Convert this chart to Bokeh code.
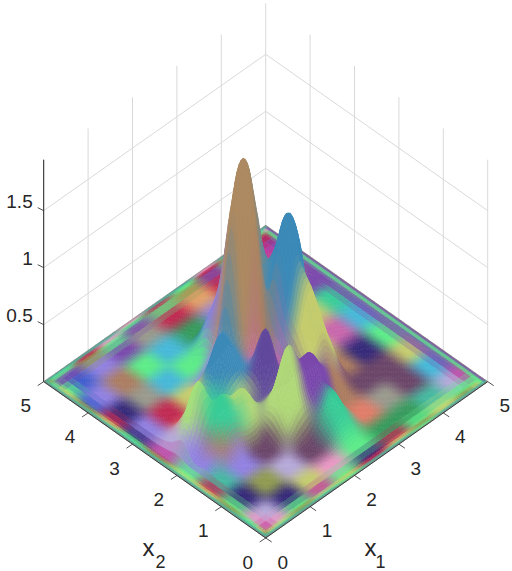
import numpy as np
from bokeh.plotting import figure
from bokeh.models import Range1d
from bokeh.core.properties import value
from bokeh.embed import file_html
from bokeh.resources import INLINE

# ---- data ----
x1_ticks = [0, 1, 2, 3, 4, 5]
x2_ticks = [0, 1, 2, 3, 4, 5]
z_ticks = [0.5, 1, 1.5]
z_tick_labels = ["0.5", "1", "1.5"]
z_top = 1.947

# heights: rows are x1 = 0, .25 ... 5; columns x2 = 0, .25 ... 5
height_x = [i * 0.25 for i in range(21)]
height_rows = {
    1:  {9: .02, 10: .01},
    2:  {7: .03, 8: .03, 9: .25, 10: .10, 11: .02},
    3:  {7: .09, 8: .22, 9: .55, 10: .25, 11: .05},
    4:  {6: .02, 7: .20, 8: .42, 9: .22, 10: .10, 11: .02},
    5:  {7: .16, 8: .35, 9: .16, 10: .02, 11: .02},
    6:  {5: .01, 6: .04, 7: .16, 8: .35, 9: .15, 10: .13, 11: .25, 12: .12},
    7:  {4: .01, 5: .15, 6: .32, 7: .22, 8: .16, 9: .11, 10: .25, 11: .55, 12: .25, 13: .02},
    8:  {4: .03, 5: .32, 6: .72, 7: .32, 8: .17, 9: .28, 10: .27, 11: .38, 12: .32, 13: .13, 14: .04},
    9:  {3: .06, 4: .15, 5: .31, 6: .54, 7: .27, 8: .25, 9: .60, 10: .30, 11: .50, 12: 1.38, 13: .45, 14: .38, 15: .12},
    10: {2: .01, 3: .14, 4: .32, 5: .37, 6: .53, 7: .29, 8: .20, 9: .25, 10: .30, 11: 1.38, 12: 1.82, 13: 1.38, 14: .55, 15: .25, 16: .02},
    11: {3: .06, 4: .14, 5: .16, 6: .35, 7: .30, 8: .50, 9: .68, 10: 1.02, 11: .45, 12: 1.38, 13: .60, 14: .30, 15: .12},
    12: {4: .01, 6: .22, 7: .50, 8: .82, 9: 1.02, 10: 1.34, 11: 1.02, 12: .60, 13: .22, 14: .04},
    13: {6: .06, 7: .30, 8: .45, 9: .40, 10: 1.02, 11: .45, 12: .09},
    14: {7: .05, 8: .10, 9: .15, 10: .15, 11: .09, 12: .01},
}

palette = {
    "g": "#85807a", "t": "#45b8a0", "G": "#5cec88", "l": "#a6e07c", "o": "#8f9a50",
    "d": "#359a5c", "b": "#3f5ccc", "c": "#45b8d8", "p": "#7a48ac", "m": "#c0389e",
    "r": "#c02850", "n": "#ab7c60", "s": "#e07c68", "k": "#e898c4", "v": "#9080e0",
    "y": "#c4cc6e", "e": "#98988c", "u": "#342878", "a": "#ad8a62", "B": "#3c8ab8",
    "i": "#5f489c", "L": "#b0d878", "w": "#b4a8d8", "h": "#6a4468", "f": "#e0a068",
    "x": "#38cc98", "q": "#c866ac",
}

# floor colours at these node positions, rows x1, columns x2
colour_x = [0, .03, .07, .16, .38, .9, 1.4, 1.9, 2.5, 3.1, 3.6, 4.1, 4.62, 4.84, 4.93, 4.97, 5]
colour_rows = [
    "g g g g g g g g g g g g g g g g g",
    "g t t t t t t t t t t t t t t t g",
    "g t o y G o y l o G y o y G o t g",
    "g t y m k G r G m u r b G p G t g",
    "g t l k w u t v w v u v b p G t g",
    "g t o G u o v n s r e n v o r t g",
    "g t l m y w h L x y c G p G k t g",
    "g G y G k h L i L v G c e p G k g",
    "g t r u G x i L i q B d r G r t g",
    "g t y r d s n p y n a v f o G t g",
    "g G o G d e h n y q n a r p r k g",
    "g t y l t h h u q y B B a G o t g",
    "g t o G w c y G c x p n m r G t g",
    "g t y G m p p p p p p p p r G t g",
    "g t G G G G G G G G G G G G k t g",
    "g t p p p p p p p p p p p p p t g",
    "g g g g g g g g g g g g g g g g g",
]

# colour of the raised bumps, same nodes as the heights; "." means floor colour
bump_rows = {
    2:  ".........ll..........",
    3:  ".......xxlll.........",
    4:  ".......xxxll.........",
    5:  ".......xLL...........",
    6:  "......LLLLBBB........",
    7:  ".....LLLLLBBBB.......",
    8:  ".....LLLiiBBB........",
    9:  ".....pppiiqaaav......",
    10: ".....pppiqnaaavv.....",
    11: ".....ppyyBBBaavv.....",
    12: ".......yyBBBB........",
    13: ".......yyBBBB........",
}

# ---- view of the box, in page pixels ----
OX, OY, SX, SY, SZ = 265.2, 537.5, 44.4, 31.27, 114.0


def proj(a, b, z=0.0):
    a, b, z = np.asarray(a, float), np.asarray(b, float), np.asarray(z, float)
    return OX + SX * (a - b), OY - SY * (a + b) - SZ * z


def rgb(h):
    return [int(h[k:k + 2], 16) for k in (1, 3, 5)]


def linear_weights(u, nodes, sharp=False):
    nodes = np.asarray(nodes, float)
    w = np.zeros((len(u), len(nodes)))
    for k, v in enumerate(u):
        i = min(np.searchsorted(nodes, v, side="right") - 1, len(nodes) - 2)
        t = (v - nodes[i]) / (nodes[i + 1] - nodes[i])
        if sharp:
            t = np.clip((t - .12) / .76, 0, 1)
            t = t * t * (3 - 2 * t)
        w[k, i] += 1 - t
        w[k, i + 1] += t
    return w


def smooth_weights(u, nodes):
    # shading of the surface between its nodes
    n = len(nodes)
    step = nodes[1] - nodes[0]
    w = np.zeros((len(u), n))
    for k, v in enumerate(u):
        i = min(int(v / step), n - 2)
        t = v / step - i
        c = [-.5 * t + t * t - .5 * t ** 3, 1 - 2.5 * t * t + 1.5 * t ** 3,
             .5 * t + 2 * t * t - 1.5 * t ** 3, -.5 * t * t + .5 * t ** 3]
        for o, cc in zip((-1, 0, 1, 2), c):
            w[k, min(max(i + o, 0), n - 1)] += cc
    return w


Z = np.zeros((21, 21))
for i, row in height_rows.items():
    for j, h in row.items():
        Z[i, j] = h

C = np.array([[rgb(palette[c]) for c in r.split()] for r in colour_rows], float)
A = np.zeros((21, 21))
P = np.zeros((21, 21, 3))
for i, r in bump_rows.items():
    for j, c in enumerate(r):
        if c != ".":
            A[i, j] = 1
            P[i, j] = rgb(palette[c])

u = []
for a, b in zip(colour_x[:-1], colour_x[1:]):
    parts = 13 if b - a > .3 else 2
    u.extend(np.linspace(a, b, parts, endpoint=False))
u.append(5.0)
u = np.array(u)

Zr = np.clip(smooth_weights(u, height_x) @ Z @ smooth_weights(u, height_x).T, 0, None)
Lc = linear_weights(u, colour_x, sharp=True)
Lb = linear_weights(u, height_x)
Ar = Lb @ A @ Lb.T
Pr = np.stack([Lb @ P[..., k] @ Lb.T for k in range(3)], axis=-1)
safe = np.where(Ar > 1e-6, Ar, 1)
Pr = Pr / safe[..., None]
weight = (Ar * np.clip((Zr - .08) / .18, 0, 1))[..., None]
Fr = np.stack([Lc @ C[..., k] @ Lc.T for k in range(3)], axis=-1)
Cr = Fr * (1 - weight) + Pr * weight

U1, U2 = np.meshgrid(u, u, indexing="ij")
Sx, Sy = proj(U1, U2, Zr)

cells = []
n = len(u) - 1
for i in range(n):
    for j in range(n):
        cells.append((u[i] + u[j], i, j))
cells.sort(key=lambda c: -c[0])

xs, ys, cols = [], [], []
for _, i, j in cells:
    xs.append([Sx[i, j], Sx[i + 1, j], Sx[i + 1, j + 1], Sx[i, j + 1]])
    ys.append([Sy[i, j], Sy[i + 1, j], Sy[i + 1, j + 1], Sy[i, j + 1]])
    m = (Cr[i, j] + Cr[i + 1, j] + Cr[i + 1, j + 1] + Cr[i, j + 1]) / 4
    cols.append("#%02x%02x%02x" % tuple(int(np.clip(v, 0, 255)) for v in m))

p = figure(width=512, height=571, x_range=Range1d(0, 512), y_range=Range1d(571, 0),
           toolbar_location=None, output_backend="svg", min_border=0)
p.axis.visible = False
p.grid.visible = False
p.outline_line_color = None
p.background_fill_color = "white"

GRID = "#d9d9d9"
DARK = "#262626"
FONT = value("Liberation Sans")
x5 = x2_ticks[-1]
for t in x1_ticks:
    a, b = proj([t, t], [x5, x5], [0, z_top])
    p.line(a, b, line_color=GRID, line_width=1)
for t in x2_ticks[:-1]:
    a, b = proj([x5, x5], [t, t], [0, z_top])
    p.line(a, b, line_color=GRID, line_width=1)
for t in z_ticks:
    a, b = proj([0, x5, x5], [x5, x5, 0], [t, t, t])
    p.line(a, b, line_color=GRID, line_width=1)

p.patches(xs, ys, fill_color=cols, line_color=cols, line_width=0.6)

# axes lines
a, b = proj([0, x5], [0, 0])
p.line(a, b, line_color=DARK, line_width=0.8)
a, b = proj([0, 0], [0, x5])
p.line(a, b, line_color=DARK, line_width=0.8)
a, b = proj([0, 0], [x5, x5], [0, z_top])
p.line(a, b, line_color=DARK, line_width=1)

for t in x1_ticks:
    a, b = proj(t, 0)
    p.line([a, a + 6], [b, b + 4], line_color=DARK, line_width=0.8)
    p.text([a + 17], [b + 24], text=[str(t)], text_font=FONT, text_font_size="19px",
           text_color=DARK, text_align="center", text_baseline="middle")
for t in x2_ticks:
    a, b = proj(0, t)
    p.line([a, a - 6], [b, b + 4], line_color=DARK, line_width=0.8)
    p.text([a - 18], [b + 24], text=[str(t)], text_font=FONT, text_font_size="19px",
           text_color=DARK, text_align="center", text_baseline="middle")
for t, lab in zip(z_ticks, z_tick_labels):
    a, b = proj(0, x5, t)
    p.line([a, a - 6], [b, b - 3], line_color=DARK, line_width=0.8)
    p.text([a - 11], [b - 9], text=[lab], text_font=FONT, text_font_size="19px",
           text_color=DARK, text_align="right", text_baseline="middle")

for tx, ty, lab, size in [(370, 547, "x", "24px"), (380, 561, "1", "18px"),
                          (148, 547, "x", "24px"), (160, 561, "2", "18px")]:
    p.text([tx], [ty], text=[lab], text_font=FONT, text_font_size=size,
           text_color=DARK, text_align="center", text_baseline="middle")

open("out.html", "w").write(file_html(p, INLINE))
